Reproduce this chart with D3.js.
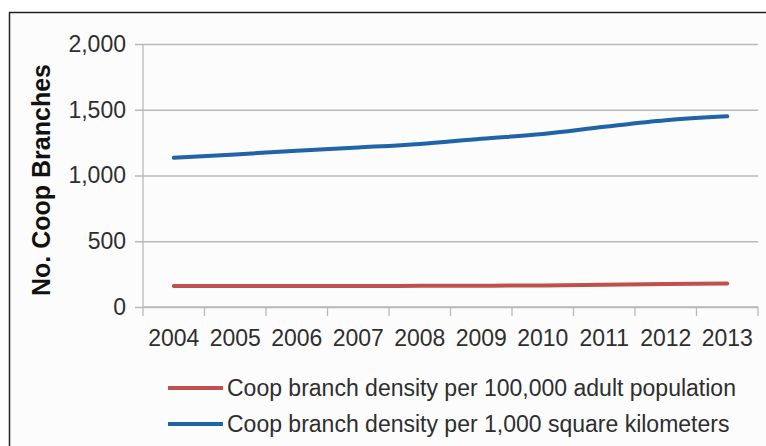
<!DOCTYPE html>
<html>
<head>
<meta charset="utf-8">
<script src="https://cdn.jsdelivr.net/npm/d3@7"></script>
<style>
  body { margin: 0; background: #fff; }
  svg { display: block; font-family: "Liberation Sans", Arial, sans-serif; }
</style>
</head>
<body>
<svg id="chart" width="766" height="446"></svg>
<script>
// chart data
var years = ["2004", "2005", "2006", "2007", "2008", "2009", "2010", "2011", "2012", "2013"];
var perAdultPop = [160, 160, 160, 160, 161, 162, 164, 169, 174, 178];
var perSqKm = [1135, 1160, 1188, 1213, 1240, 1280, 1315, 1370, 1420, 1450];
var yTicks = [0, 500, 1000, 1500, 2000];
var seriesNames = [
  "Coop branch density per 100,000 adult population",
  "Coop branch density per 1,000 square kilometers"
];
var seriesColors = ["#c0504d", "#1f63a9"];

var svg = d3.select("#chart"),
    margin = {top: 44, right: 8, bottom: 139, left: 143},
    width = +svg.attr("width") - margin.left - margin.right,
    height = +svg.attr("height") - margin.top - margin.bottom;

// outer frame
svg.append("rect")
    .attr("x", 9.5).attr("y", 12.5)
    .attr("width", 800).attr("height", 500)
    .attr("fill", "#fcfcfc")
    .attr("stroke", "#222")
    .attr("stroke-width", 1.5);

var g = svg.append("g").attr("transform", "translate(" + margin.left + "," + margin.top + ")");

var x = d3.scaleBand().domain(years).range([0, width]).padding(0),
    y = d3.scaleLinear().domain([0, 2000]).range([height, 0]);

// gridlines + y axis
g.append("g")
    .attr("class", "axis axis--y")
    .call(d3.axisLeft(y).tickValues(yTicks).tickSize(-width).tickFormat(d3.format(",")))
    .call(function(a) {
      a.select(".domain").remove();
      a.selectAll("line").attr("stroke", "#b8b8b8").attr("stroke-width", 1.3).attr("x1", -8);
      a.selectAll("text").attr("fill", "#2e2e2e").style("font-size", "23px")
        .attr("x", -17);
    });

// left axis line
g.append("line")
    .attr("x1", 0).attr("x2", 0).attr("y1", 0).attr("y2", height)
    .attr("stroke", "#b8b8b8").attr("stroke-width", 1.3);

// x axis
var xAxis = g.append("g")
    .attr("class", "axis axis--x")
    .attr("transform", "translate(0," + height + ")");

xAxis.append("line")
    .attr("x1", 0).attr("x2", width)
    .attr("stroke", "#b8b8b8").attr("stroke-width", 1.3);

var edges = years.map(function(d) { return x(d); }).concat([width]);
xAxis.selectAll(".tick-edge")
  .data(edges)
  .enter().append("line")
    .attr("class", "tick-edge")
    .attr("x1", function(d) { return d; })
    .attr("x2", function(d) { return d; })
    .attr("y1", 0).attr("y2", 9)
    .attr("stroke", "#b8b8b8").attr("stroke-width", 1.3);

xAxis.selectAll(".year")
  .data(years)
  .enter().append("text")
    .attr("class", "year")
    .attr("x", function(d) { return x(d) + x.bandwidth() / 2; })
    .attr("y", 39)
    .attr("text-anchor", "middle")
    .attr("fill", "#2e2e2e")
    .style("font-size", "23px")
    .text(function(d) { return d; });

// y label
g.append("text")
    .attr("transform", "translate(-93," + (180 - margin.top) + ") rotate(-90)")
    .attr("text-anchor", "middle")
    .attr("fill", "#111")
    .style("font-size", "25px")
    .style("font-weight", "bold")
    .text("No. Coop Branches");

// lines
var line = d3.line()
    .curve(d3.curveMonotoneX)
    .x(function(d, i) { return x(years[i]) + x.bandwidth() / 2; })
    .y(function(d) { return y(d); });

[perAdultPop, perSqKm].forEach(function(vals, i) {
  g.append("path")
      .attr("d", line(vals))
      .attr("fill", "none")
      .attr("stroke", seriesColors[i])
      .attr("stroke-width", 4)
      .attr("stroke-linecap", "round");
});

// legend
var legend = svg.selectAll(".legend")
  .data(seriesNames)
  .enter().append("g")
    .attr("class", "legend")
    .attr("transform", function(d, i) { return "translate(168," + (388 + i * 36) + ")"; });

legend.append("line")
    .attr("x1", 0).attr("x2", 55)
    .attr("stroke", function(d, i) { return seriesColors[i]; })
    .attr("stroke-width", 4);

legend.append("text")
    .attr("x", 59)
    .attr("dy", "0.35em")
    .attr("fill", "#2e2e2e")
    .style("font-size", "23px")
    .text(function(d) { return d; });
</script>
</body>
</html>
